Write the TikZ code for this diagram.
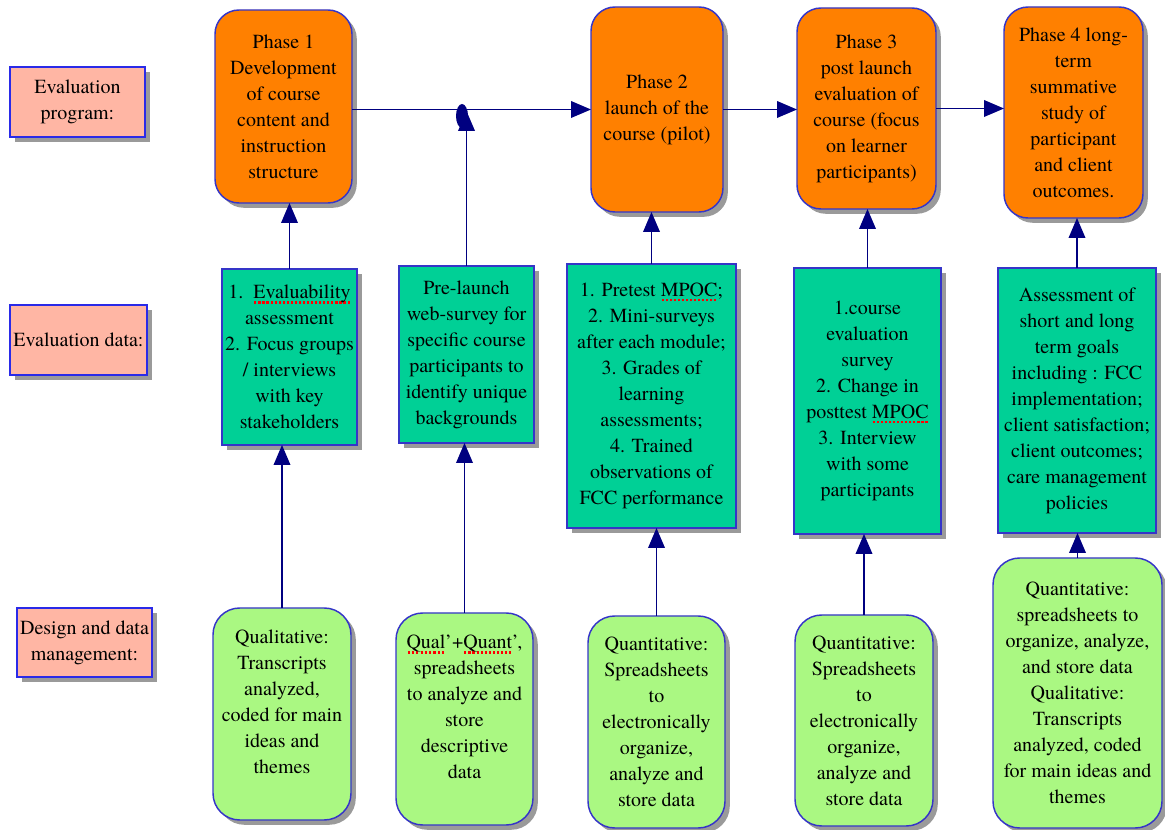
\documentclass[tikz,border=0pt]{standalone}
\usepackage{fontspec}
\setmainfont{texgyretermes}[Extension=.otf, UprightFont=*-regular, BoldFont=*-bold, ItalicFont=*-italic, BoldItalicFont=*-bolditalic, Ligatures=TeX]
\usetikzlibrary{arrows.meta,shadows,shapes.geometric}

\definecolor{navy}{HTML}{000080}
\definecolor{edgeblue}{HTML}{3535C8}
\definecolor{labeledge}{HTML}{2A2AE8}
\definecolor{salmon}{HTML}{FFB6A4}
\definecolor{phaseorange}{HTML}{FF8000}
\definecolor{datateal}{HTML}{00D096}
\definecolor{designgreen}{HTML}{AAF882}
\definecolor{shadowgray}{HTML}{9A9A9A}

% red dotted spell-check underline
\newsavebox\spellbox
\newcommand\spellmark[1]{\sbox\spellbox{#1}%
  \rlap{\raisebox{-3.6pt}[0pt][0pt]{\hbox to \wd\spellbox{\color{red}\xleaders\hbox to 3pt{\hss\rule{1.6pt}{1.6pt}\hss}\hfill}}}%
  \usebox\spellbox}

\begin{document}
\begin{tikzpicture}[x=0.75pt,y=-0.75pt,
  every node/.style={font=\fontsize{15}{19.5}\selectfont, align=center, inner sep=0pt, outer sep=0pt},
  wh/.style 2 args={minimum width=#1*0.75pt, minimum height=#2*0.75pt},
  box/.style={draw=edgeblue, line width=1.1pt,
    drop shadow={shadow xshift=3.6pt, shadow yshift=-3.6pt, fill=shadowgray, opacity=1}},
  rowlabel/.style={box, draw=labeledge, fill=salmon},
  phasebox/.style={box, fill=phaseorange, rounded corners=18pt},
  databox/.style={box, fill=datateal},
  designbox/.style={box, fill=designgreen, rounded corners=20pt},
  arr/.style={draw=navy, line width=1.1pt, -{Triangle[length=15pt,width=12.5pt]}},
  junction/.style={ellipse, fill=navy, draw=none, minimum width=9pt, minimum height=18pt}
]
\useasboundingbox (0,0) rectangle (1165,830);

% row labels
\node[rowlabel, wh={135}{70}] (L1) at (77.5,102) {Evaluation\\program:};
\node[rowlabel, wh={137}{70}] (L2) at (78.5,340) {Evaluation data:};
\node[rowlabel, wh={135}{69}] (L3) at (84.5,642.5) {Design and data\\management:};

% phases
\node[phasebox, wh={137}{193}] (P1) at (283.5,106.5)
  {Phase 1\\Development\\of course\\content and\\instruction\\structure};
\node[phasebox, wh={132}{205}] (P2) at (657,109.5)
  {Phase 2\\launch of the\\course (pilot)};
\node[phasebox, wh={139}{201}] (P3) at (866.5,108.5)
  {Phase 3\\post launch\\evaluation of\\course (focus\\on learner\\participants)};
\node[phasebox, wh={139}{211}] (P4) at (1073.5,112.5)
  {Phase 4 long-\\term\\summative\\study of\\participant\\and client\\outcomes.};

% evaluation data
\node[databox, wh={135}{176}] (D1) at (289.5,357)
  {1.\ \ \spellmark{Evaluability}\\assessment\\2. Focus groups\\/ interviews\\with key\\stakeholders};
\node[databox, wh={135}{177}] (D2) at (466.5,354.5)
  {Pre-launch\\web-survey for\\specific course\\participants to\\identify unique\\backgrounds};
\node[databox, wh={169}{264}] (D3) at (651.5,396)
  {1. Pretest \spellmark{MPOC};\\2. Mini-surveys\\after each module;\\3. Grades of\\learning\\assessments;\\4. Trained\\observations of\\FCC performance};
\node[databox, wh={147}{266}] (D4) at (867.5,401)
  {1.course\\evaluation\\survey\\2. Change in\\posttest \spellmark{MPOC}\\3. Interview\\with some\\participants};
\node[databox, wh={158}{265}] (D5) at (1077,400.5)
  {Assessment of\\short and long\\term goals\\including : FCC\\implementation;\\client satisfaction;\\client outcomes;\\care management\\policies};

% design and data management
\node[designbox, wh={138}{212}] (B1) at (282,714) {};
\node (B1t) at (282,702) {Qualitative:\\Transcripts\\analyzed,\\coded for main\\ideas and\\themes};
\node[designbox, wh={137}{212}] (B2) at (464.5,719) {};
\node (B2t) at (464.5,707) {\spellmark{Qual}'+\spellmark{Quant}',\\spreadsheets\\to analyze and\\store\\descriptive\\data};
\node[designbox, wh={137}{212}] (B3) at (656.5,722)
  {Quantitative:\\Spreadsheets\\to\\electronically\\organize,\\analyze and\\store data};
\node[designbox, wh={138}{211}] (B4) at (864,720.5)
  {Quantitative:\\Spreadsheets\\to\\electronically\\organize,\\analyze and\\store data};
\node[designbox, wh={169}{270}] (B5) at (1077.5,693)
  {Quantitative:\\spreadsheets to\\organize, analyze,\\and store data\\Qualitative:\\Transcripts\\analyzed, coded\\for main ideas and\\themes};

% phase sequence
\draw[arr] (P1.east |- P2.west) -- (P2.west);
\draw[arr] (P2.east) -- (P2.east -| P3.west);
\draw[arr] (P3.east) -- (P3.east -| P4.west);

% evaluation data feeding the phases
\draw[arr] (D1.north) -- (D1.north |- P1.south);
\draw[arr] (D3.north) -- (D3.north |- P2.south);
\draw[arr] (D4.north) -- (D4.north |- P3.south);
\draw[arr] (D5.north) -- (D5.north |- P4.south);

% pre-launch survey joins the line between phase 1 and phase 2
\coordinate (Jtip) at (468,111);
\draw[arr] (D2.north) -- (D2.north |- Jtip);
\node[junction] (J) at (462,116) {};

% design and data management feeding the evaluation data
\draw[arr] (B1.north) -- (B1.north |- D1.south);
\draw[arr] (B2.north) -- (B2.north |- D2.south);
\draw[arr] (B3.north) -- (B3.north |- D3.south);
\draw[arr] (B4.north) -- (B4.north |- D4.south);
\draw[arr] (B5.north) -- (B5.north |- D5.south);
\end{tikzpicture}
\end{document}
